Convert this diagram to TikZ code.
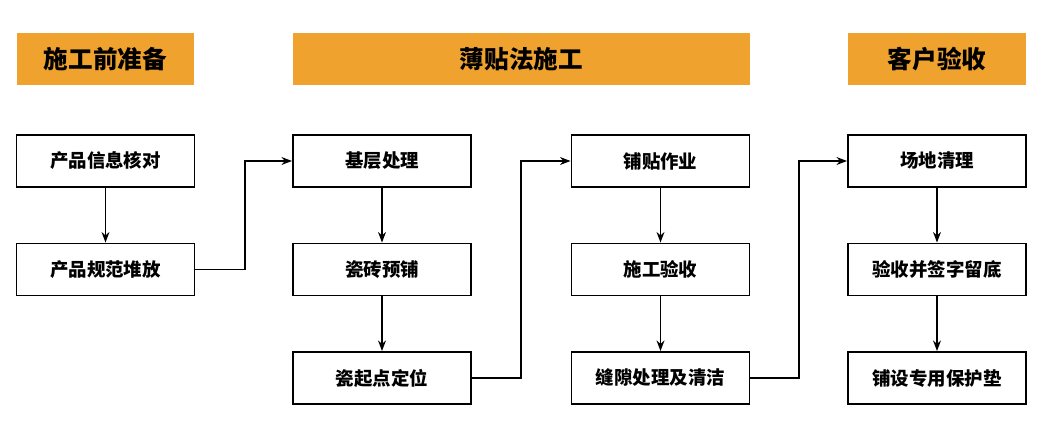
\documentclass[tikz,border=0pt]{standalone}
\usepackage{fontspec}
\setmainfont{Noto Sans CJK SC}
\usetikzlibrary{arrows.meta}
\definecolor{headorange}{HTML}{F0A22E}
\tikzset{
    head/.style={fill=headorange, minimum height=1.04cm, inner sep=0pt, font=\fontsize{14}{16}\selectfont\bfseries},
    task/.style={draw=black, line width=1.1pt, minimum width=3.56cm, minimum height=1.04cm, inner sep=0pt, font=\fontsize{10.5}{12}\selectfont\bfseries},
    flow/.style={-{Stealth[length=6pt]}, line width=0.8pt}
}
\begin{document}
\begin{tikzpicture}
  \useasboundingbox (0,0) rectangle (21.06,8.54);
  % headers
  \node [head, minimum width=3.54cm] (h1) at (2.11,7.36) {施工前准备};
  \node [head, minimum width=9.14cm] (h2) at (10.43,7.36) {薄贴法施工};
  \node [head, minimum width=3.56cm] (h3) at (18.74,7.36) {客户验收};
  % column one
  \node [task] (c1a) at (2.11,5.32) {产品信息核对};
  \node [task] (c1b) at (2.11,3.15) {产品规范堆放};
  % column two
  \node [task] (c2a) at (7.64,5.32) {基层处理};
  \node [task] (c2b) at (7.64,3.15) {瓷砖预铺};
  \node [task] (c2c) at (7.64,0.98) {瓷起点定位};
  % column three
  \node [task] (c3a) at (13.21,5.32) {铺贴作业};
  \node [task] (c3b) at (13.21,3.15) {施工验收};
  \node [task] (c3c) at (13.21,0.98) {缝隙处理及清洁};
  % column four
  \node [task] (c4a) at (18.74,5.32) {场地清理};
  \node [task] (c4b) at (18.74,3.15) {验收并签字留底};
  \node [task] (c4c) at (18.74,0.98) {铺设专用保护垫};
  % bends
  \coordinate (k1) at (4.9,5.32);
  \coordinate (k2) at (10.42,5.32);
  \coordinate (k3) at (15.98,5.32);
  \draw [flow] (c1a) -- (c1b);
  \draw [flow] (c2a) -- (c2b);
  \draw [flow] (c2b) -- (c2c);
  \draw [flow] (c3a) -- (c3b);
  \draw [flow] (c3b) -- (c3c);
  \draw [flow] (c4a) -- (c4b);
  \draw [flow] (c4b) -- (c4c);
  \draw [flow] (c1b.east) -| (k1) -- (c2a.west);
  \draw [flow] (c2c.east) -| (k2) -- (c3a.west);
  \draw [flow] (c3c.east) -| (k3) -- (c4a.west);
\end{tikzpicture}
\end{document}
